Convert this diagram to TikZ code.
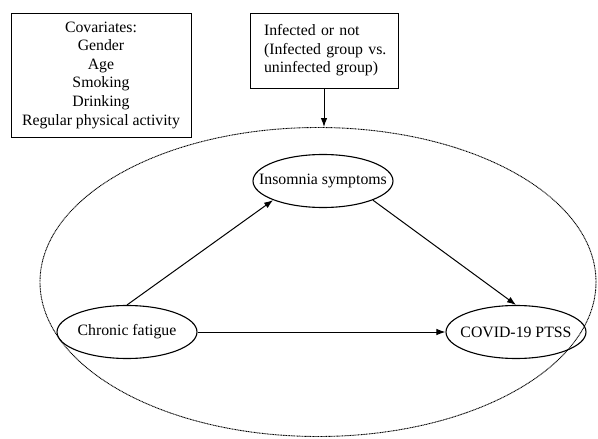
\documentclass[tikz,border=0pt]{standalone}
\usepackage{fontspec}
\setmainfont{Liberation Serif}
\usetikzlibrary{shapes.geometric,arrows.meta}
\begin{document}
\begin{tikzpicture}[x=1pt,y=-1pt,
  txt/.style={font=\fontsize{15.8}{18.6}\selectfont},
  varbox/.style={draw,line width=1pt,txt,inner sep=0pt},
  varell/.style={draw,ellipse,line width=1.1pt,txt,minimum width=140pt,minimum height=53pt,inner sep=0pt},
  arr/.style={line width=1pt,-{Latex[length=9pt,width=6.5pt]}}]
\useasboundingbox (0,0) rectangle (598,439);
\node[varbox,minimum width=180pt,minimum height=124pt,align=center] (cov) at (101,75)
  {Covariates:\\Gender\\Age\\Smoking\\Drinking\\Regular physical activity};
\node[varbox,minimum height=75pt,inner xsep=14pt,text width=120pt,align=left] (inf) at (324,50.5)
  {\mbox{Infected or not}\\\mbox{(Infected group vs.}\\\mbox{uninfected group)}};
\node[draw,ellipse,dash pattern=on 1pt off 0.6pt,line width=0.9pt,minimum width=556pt,minimum height=309pt,inner sep=0pt] (big) at (318,282) {};
\node[varell] (ins) at (323,181) {\makebox[0pt]{Insomnia symptoms}};
\node[varell] (cf) at (127,332) {\makebox[0pt]{Chronic fatigue}};
\node[varell] (pt) at (516,332) {\makebox[0pt]{COVID-19 PTSS}};
\coordinate (top) at (inf.south |- big.north);
\draw[arr] (inf.south) -- (top);
\draw[arr] (cf.north) -- (ins.south west);
\draw[arr] (ins.south east) -- (pt.north);
\draw[arr] (cf) -- (pt);
\end{tikzpicture}
\end{document}
